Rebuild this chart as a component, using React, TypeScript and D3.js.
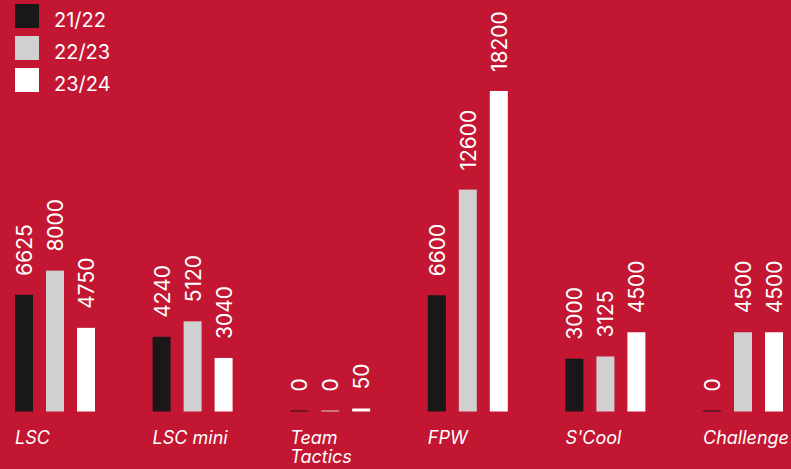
import React from "react";
import * as d3 from "d3";

const categories = ["LSC", "LSC mini", "Team\nTactics", "FPW", "S'Cool", "Challenge"];
const seasons = ["21/22", "22/23", "23/24"];
const values21 = [6625, 4240, 0, 6600, 3000, 0];
const values22 = [8000, 5120, 0, 12600, 3125, 4500];
const values23 = [4750, 3040, 50, 18200, 4500, 4500];
const seasonColors = ["#1a1718", "#d0d0d0", "#ffffff"];

const W = 791;
const H = 469;
const BG = "#c21632";
const FONT = "Inter, 'Noto Sans', sans-serif";

export default function App() {
  const series = [values21, values22, values23];

  const x0 = d3.scaleBand<string>().domain(categories).range([15, 15 + 137.6 * categories.length]);
  const x1 = d3.scaleBand<string>().domain(seasons).range([0, 80]).paddingInner(13 / 31).paddingOuter(0);
  const y = d3.scaleLinear().domain([0, 18200]).range([411.5, 91]);
  const bw = x1.bandwidth();

  return (
    <div style={{ position: "fixed", left: 0, top: 0 }}>
      <svg width={W} height={H} style={{ display: "block", fontFamily: FONT }}>
        <rect width={W} height={H} fill={BG} />

        {/* legend */}
        {seasons.map((s, i) => (
          <g key={s} transform={`translate(15,${4 + i * 32})`}>
            <rect width={24} height={24} fill={seasonColors[i]} />
            <text x={39} y={23} fill="#fff" fontSize={20}>{s}</text>
          </g>
        ))}

        {/* bars */}
        {categories.map((c, ci) => (
          <g key={c} transform={`translate(${x0(c)},0)`}>
            {seasons.map((s, si) => {
              const v = series[si][ci];
              const bx = x1(s)!;
              const top = y(v);
              const h = Math.max(y(0) - top, v > 0 ? 3 : 1);
              const cx = bx + bw / 2;
              return (
                <g key={s}>
                  <rect x={bx} y={y(0) - h} width={bw} height={h} fill={seasonColors[si]} />
                  <text
                    transform={`translate(${cx + 8},${y(0) - h - 19}) rotate(-90)`}
                    fill="#fff"
                    fontSize={21}
                  >
                    {v}
                  </text>
                </g>
              );
            })}
            {c.split("\n").map((line, li) => (
              <text key={li} x={0} y={444 + li * 19} fill="#fff" fontSize={18} fontStyle="italic">
                {line}
              </text>
            ))}
          </g>
        ))}
      </svg>
    </div>
  );
}
